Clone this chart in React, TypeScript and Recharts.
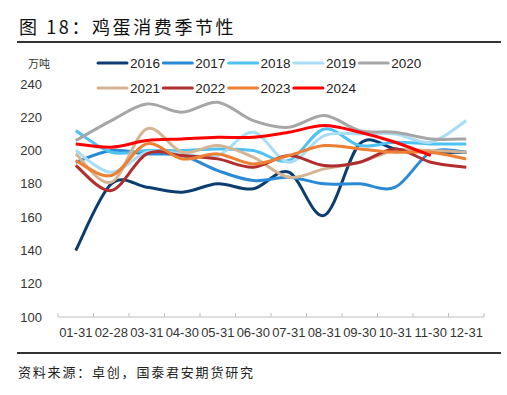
import React from 'react';
import { LineChart, Line, XAxis, YAxis } from 'recharts';

const months = ['01-31', '02-28', '03-31', '04-30', '05-31', '06-30', '07-31', '08-31', '09-30', '10-31', '11-30', '12-31'];
const s2016 = [140, 180, 178, 175, 180, 177, 187, 161, 204, 201, 199, 199];
const s2017 = [193, 200, 198, 197, 188, 182, 184, 180, 180, 178, 199, 199];
const s2018 = [212, 199, 200, 200, 201, 200, 194, 213, 203, 205, 204, 204];
const s2019 = [200, 187, 199, 198, 197, 211, 193, 209, 210, 210, 205, 218];
const s2020 = [206, 218, 228, 223, 229, 218, 214, 221, 212, 211, 207, 207];
const s2021 = [198, 181, 213, 199, 203, 196, 184, 189, 193, 200, 200, 199];
const s2022 = [191, 176, 198, 197, 195, 190, 197, 191, 193, 201, 193, 190];
const s2023 = [194, 185, 204, 195, 198, 192, 197, 203, 201, 199, 199, 195];
const s2024 = [204, 202, 206, 207, 208, 208, 211, 215, 211, 205, 197, null];
const yTicks = [100, 120, 140, 160, 180, 200, 220, 240];

const seriesNames = ['2016', '2017', '2018', '2019', '2020', '2021', '2022', '2023', '2024'];
const seriesValues = [s2016, s2017, s2018, s2019, s2020, s2021, s2022, s2023, s2024];
const colors = ['#0C3D70', '#2B8AD6', '#4EC2F2', '#A9DDF6', '#A6A6A6', '#D5B493', '#B22E2E', '#EF7F32', '#FF0000'];

const data = months.map((m, i) => {
  const row: any = { month: m };
  seriesNames.forEach((n, k) => {
    row[n] = seriesValues[k][i];
  });
  return row;
});

function excelCurve(context: any) {
  let pts: number[][] = [];
  return {
    areaStart() {},
    areaEnd() {},
    lineStart() {
      pts = [];
    },
    point(x: number, y: number) {
      pts.push([+x, +y]);
    },
    lineEnd() {
      const n = pts.length;
      if (!n) return;
      context.moveTo(pts[0][0], pts[0][1]);
      const t = 1 / 6;
      for (let i = 0; i < n - 1; i++) {
        const p0 = pts[i - 1] || pts[i];
        const p1 = pts[i];
        const p2 = pts[i + 1];
        const p3 = pts[i + 2] || p2;
        context.bezierCurveTo(
          p1[0] + (p2[0] - p0[0]) * t,
          p1[1] + (p2[1] - p0[1]) * t,
          p2[0] - (p3[0] - p1[0]) * t,
          p2[1] - (p3[1] - p1[1]) * t,
          p2[0],
          p2[1]
        );
      }
    },
  };
}

const W = 507;
const H = 395;
const PLOT_L = 58;
const PLOT_R = 484;
const AXIS_Y = 317;
const HALF = (PLOT_R - PLOT_L) / 24;

const XTick = (props: any) => {
  const { x, payload } = props;
  const last = payload.value === months[months.length - 1];
  return (
    <g>
      <line x1={x - HALF} x2={x - HALF} y1={AXIS_Y - 4} y2={AXIS_Y} stroke="#BFBFBF" />
      {last ? <line x1={x + HALF} x2={x + HALF} y1={AXIS_Y - 4} y2={AXIS_Y} stroke="#BFBFBF" /> : null}
      <text x={x} y={AXIS_Y + 20} textAnchor="middle" fontSize={13} fill="#333" fontFamily="'Liberation Sans', Arial, sans-serif">
        {payload.value}
      </text>
    </g>
  );
};

const LegendBlock = () => {
  const pitch = 65.3;
  return (
    <svg width={340} height={40} style={{ display: 'block' }}>
      {seriesNames.map((n, i) => {
        const col = i % 5;
        const row = Math.floor(i / 5);
        const x0 = 2 + col * pitch;
        const y0 = 8 + row * 25;
        return (
          <g key={n}>
            <line x1={x0} x2={x0 + 29} y1={y0} y2={y0} stroke={colors[i]} strokeWidth={3} strokeLinecap="round" />
            <text x={x0 + 32} y={y0 + 5} fontSize={13.5} fill="#222" fontFamily="'Liberation Sans', Arial, sans-serif">
              {n}
            </text>
          </g>
        );
      })}
    </svg>
  );
};

export default function App() {
  return (
    <div style={{ position: 'absolute', left: 0, top: 0, width: W, height: H, background: '#fff', overflow: 'hidden' }}>
      <div
        style={{
          position: 'absolute',
          left: 19,
          top: 12,
          fontFamily: "'Noto Sans CJK SC', sans-serif",
          fontSize: 18,
          letterSpacing: 2.6,
          color: '#111',
          whiteSpace: 'nowrap',
          lineHeight: '28px',
        }}
      >
        图 18：鸡蛋消费季节性
      </div>
      <div style={{ position: 'absolute', left: 17, top: 41, width: 484, height: 1.5, background: '#333' }} />
      <div
        style={{
          position: 'absolute',
          left: 28,
          top: 56,
          fontFamily: "'Noto Sans CJK SC', sans-serif",
          fontSize: 11,
          color: '#333',
          lineHeight: '14px',
        }}
      >
        万吨
      </div>
      <div style={{ position: 'absolute', left: 0, top: 0 }}>
        <LineChart width={W} height={H} data={data} margin={{ top: 84, right: W - PLOT_R, left: 0, bottom: 48 }}>
          <XAxis
            dataKey="month"
            interval={0}
            padding={{ left: HALF, right: HALF }}
            axisLine={{ stroke: '#BFBFBF' }}
            tickLine={false}
            tick={<XTick />}
            height={30}
          />
          <YAxis
            width={PLOT_L}
            domain={[100, 240]}
            ticks={yTicks}
            axisLine={false}
            tickLine={false}
            tickMargin={10}
            tick={{ fontSize: 13, fill: '#333', fontFamily: "'Liberation Sans', Arial, sans-serif" }}
          />
          {seriesNames.map((n, i) => (
            <Line
              key={n}
              dataKey={n}
              stroke={colors[i]}
              strokeWidth={3}
              dot={false}
              activeDot={false}
              type={excelCurve as any}
              isAnimationActive={false}
            />
          ))}
        </LineChart>
      </div>
      <div style={{ position: 'absolute', left: 96, top: 55 }}>
        <LegendBlock />
      </div>
      <div style={{ position: 'absolute', left: 17, top: 352, width: 484, height: 1.5, background: '#333' }} />
      <div
        style={{
          position: 'absolute',
          left: 18,
          top: 363,
          fontFamily: "'Noto Sans CJK SC', sans-serif",
          fontSize: 13,
          letterSpacing: 1.8,
          color: '#222',
          whiteSpace: 'nowrap',
          lineHeight: '18px',
        }}
      >
        资料来源：卓创，国泰君安期货研究
      </div>
    </div>
  );
}
